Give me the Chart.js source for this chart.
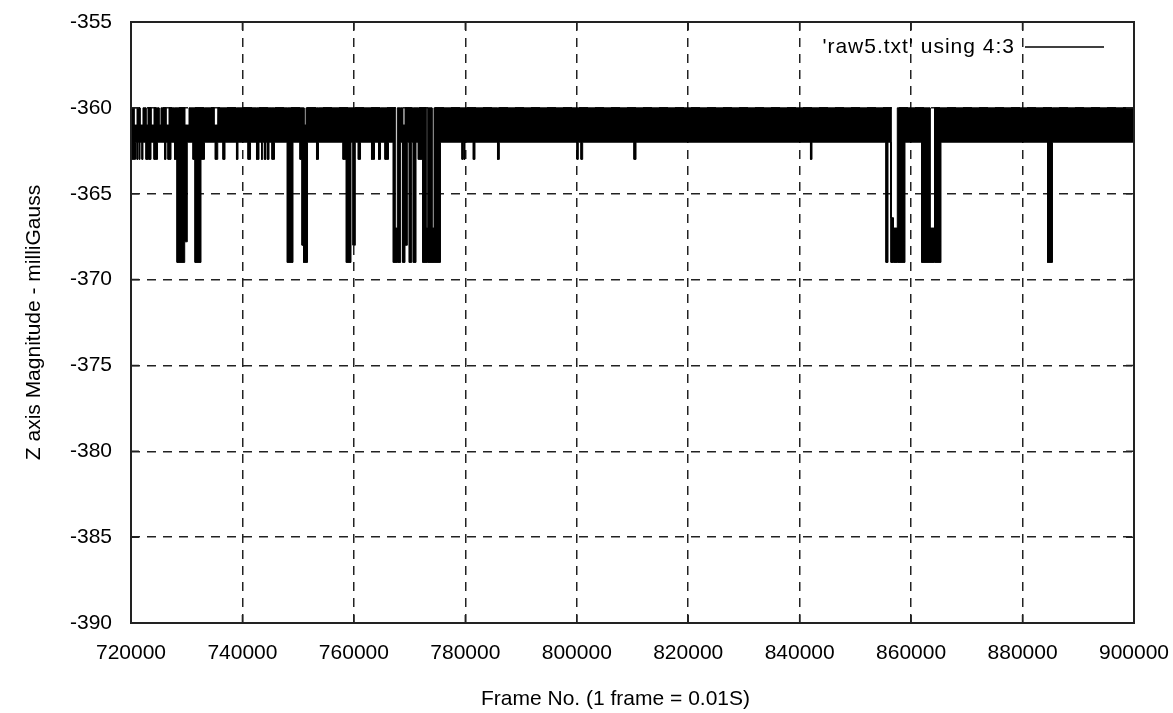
<!DOCTYPE html>
<html>
<head>
<meta charset="utf-8">
<script src="https://cdn.jsdelivr.net/npm/chart.js@4.4.1/dist/chart.umd.min.js"></script>
<style>
html,body{margin:0;padding:0;background:#fff;}
canvas{display:block;}
</style>
</head>
<body>
<canvas id="c" width="1173" height="713"></canvas>
<script>
// ---- data ----
const xTicks = [720000, 740000, 760000, 780000, 800000, 820000, 840000, 860000, 880000, 900000];
const yTicks = [-390, -385, -380, -375, -370, -365, -360, -355];
const seriesLabel = "'raw5.txt' using 4:3";
const xTitle = "Frame No. (1 frame = 0.01S)";
const yTitle = "Z axis Magnitude - milliGauss";

// normal band: the signal flickers between these two levels
const bandTop = -360;
const bandBottom = -362;

// intervals (frame numbers) where the signal's range differs from the normal band
const segStart = [720000,720540,720810,721080,721490,721620,721970,722690,723180,723590,
  724130,725030,726050,726280,726640,726820,727810,728260,729640,730100,
  731130,731490,732560,734900,735130,735490,736510,738930,741000,742520,
  743420,743960,744500,745300,748050,750330,750690,750960,751050,751410,
  753290,758050,758640,759840,760790,763160,764420,765580,767070,767380,
  767790,768760,769170,769940,770660,771560,772350,772940,773250,774020,
  774380,779400,779760,781430,785770,800040,800760,810270,841940,855490,
  856390,856800,857520,861900,863390,864200,884480];
const segEnd = [720540,720810,721080,721260,721620,721970,722150,723050,723590,724130,
  724760,725380,726280,726640,726820,727180,728260,729640,730100,730410,
  731490,732560,733190,735130,735490,735610,736870,739200,741450,742970,
  743650,744230,744770,745750,749070,750690,750960,751050,751410,751680,
  753650,758640,759480,760250,761190,763700,764780,766210,767380,767790,
  768400,769170,769590,770370,771150,772350,772940,773250,774020,774380,
  775540,779580,779940,781730,786100,800270,801060,810630,842210,855850,
  856800,857520,858900,863390,864200,865360,885370];
const segHi = [-360,-361,-361,-360,-360,-361,-361,-361,-360,-361,
  -360,-361,-360,-361,-361,-360,-360,-360,-361,-361,
  -360,-360,-360,-361,-361,-361,-360,-360,-360,-360,
  -360,-360,-360,-360,-360,-360,-360,-360,-361,-360,
  -360,-360,-360,-360,-360,-360,-360,-360,-360,-367,
  -360,-361,-360,-360,-360,-360,-360,-367,-360,-367,
  -360,-360,-360,-360,-360,-360,-360,-360,-360,-360,
  -366.4,-367,-360,-360,-367,-360,-360];
const segLo = [-363,-363,-362,-363,-363,-362,-363,-363,-363,-362,
  -363,-362,-363,-362,-363,-363,-363,-369,-367.8,-362,
  -363,-369,-363,-362,-363,-362,-363,-363,-363,-363,
  -363,-363,-363,-363,-369,-363,-368,-369,-369,-369,
  -363,-363,-369,-368,-363,-363,-363,-363,-369,-369,
  -369,-369,-368,-369,-369,-363,-369,-369,-369,-369,
  -369,-363,-363,-363,-363,-363,-363,-363,-363,-369,
  -369,-369,-369,-369,-369,-369,-369];

// ---- build the envelope tables ----
const hiPts = [], loPts = [];
function addSeg(a, b, h, l) {
  hiPts.push({x: a, y: h}, {x: b, y: h});
  loPts.push({x: a, y: l}, {x: b, y: l});
}
let cur = xTicks[0];
for (let i = 0; i < segStart.length; i++) {
  if (segStart[i] > cur) addSeg(cur, segStart[i], bandTop, bandBottom);
  addSeg(segStart[i], segEnd[i], segHi[i], segLo[i]);
  cur = segEnd[i];
}
if (cur < xTicks[xTicks.length - 1]) addSeg(cur, xTicks[xTicks.length - 1], bandTop, bandBottom);

const FONT = {family: "'Liberation Sans', Arial, sans-serif", size: 21};

const framePlugin = {
  id: 'frame',
  afterDraw(chart) {
    const {ctx, chartArea: a, scales} = chart;
    ctx.save();
    ctx.strokeStyle = '#222';
    ctx.lineWidth = 1.5;
    ctx.setLineDash([]);
    const tl = 8;
    ctx.beginPath();
    scales.x.ticks.forEach(t => {
      const px = scales.x.getPixelForValue(t.value);
      ctx.moveTo(px, a.bottom); ctx.lineTo(px, a.bottom - tl);
      ctx.moveTo(px, a.top); ctx.lineTo(px, a.top + tl);
    });
    scales.y.ticks.forEach(t => {
      const py = scales.y.getPixelForValue(t.value);
      ctx.moveTo(a.left, py); ctx.lineTo(a.left + tl, py);
      ctx.moveTo(a.right, py); ctx.lineTo(a.right - tl, py);
    });
    ctx.stroke();
    ctx.lineWidth = 2;
    ctx.strokeRect(a.left, a.top, a.right - a.left, a.bottom - a.top);

    ctx.font = FONT.size + 'px ' + FONT.family;
    ctx.fillStyle = '#000';
    ctx.textBaseline = 'middle';

    // x axis title (gnuplot places it a little left of the plot centre)
    ctx.textAlign = 'center';
    ctx.fillText(xTitle, (a.left + a.right) / 2 - 17, a.bottom + 76);

    // key, gnuplot style: label then line sample, top right inside the plot
    const ds = chart.data.datasets[0];
    const keyY = a.top + 25;
    const lineRight = a.right - 30;
    const lineLeft = lineRight - 79;
    ctx.textAlign = 'right';
    if ('letterSpacing' in ctx) ctx.letterSpacing = '1px';
    ctx.fillText(ds.label, lineLeft - 10, keyY);
    if ('letterSpacing' in ctx) ctx.letterSpacing = '0px';
    ctx.strokeStyle = ds.borderColor;
    ctx.lineWidth = 1.5;
    ctx.beginPath();
    ctx.moveTo(lineLeft, keyY);
    ctx.lineTo(lineRight, keyY);
    ctx.stroke();
    ctx.restore();
  }
};

new Chart(document.getElementById('c'), {
  type: 'line',
  data: {
    datasets: [
      {label: seriesLabel, data: hiPts, borderColor: '#000', backgroundColor: '#000',
       borderWidth: 1, pointRadius: 0, fill: false, tension: 0},
      {label: 'lower', data: loPts, borderColor: '#000', backgroundColor: '#000',
       borderWidth: 1, pointRadius: 0, fill: '-1', tension: 0}
    ]
  },
  options: {
    responsive: false,
    animation: false,
    events: [],
    layout: {padding: {left: 0, right: 39, top: 22, bottom: 0}},
    plugins: {
      tooltip: {enabled: false},
      legend: {display: false}
    },
    scales: {
      x: {
        type: 'linear',
        min: xTicks[0],
        max: xTicks[xTicks.length - 1],
        afterBuildTicks: s => { s.ticks = xTicks.map(v => ({value: v})); },
        afterFit: s => { s.height = 90; s.paddingLeft = 0; s.paddingRight = 0; },
        ticks: {font: FONT, color: '#000', padding: 18, maxRotation: 0, autoSkip: false,
                callback: v => String(v)},
        grid: {color: '#222', lineWidth: 1.5, drawTicks: false},
        border: {display: false, dash: [9, 7]},
        title: {display: false}
      },
      y: {
        type: 'linear',
        min: yTicks[0],
        max: yTicks[yTicks.length - 1],
        afterBuildTicks: s => { s.ticks = yTicks.map(v => ({value: v})); },
        afterFit: s => { s.width = 131; s.paddingTop = 0; s.paddingBottom = 0; },
        ticks: {font: FONT, color: '#000', padding: 19, autoSkip: false,
                callback: v => String(v)},
        grid: {color: '#222', lineWidth: 1.5, drawTicks: false},
        border: {display: false, dash: [9, 7]},
        title: {display: true, text: yTitle, font: FONT, color: '#000', padding: {top: 22, bottom: 0}}
      }
    }
  },
  plugins: [framePlugin]
});
</script>
</body>
</html>
